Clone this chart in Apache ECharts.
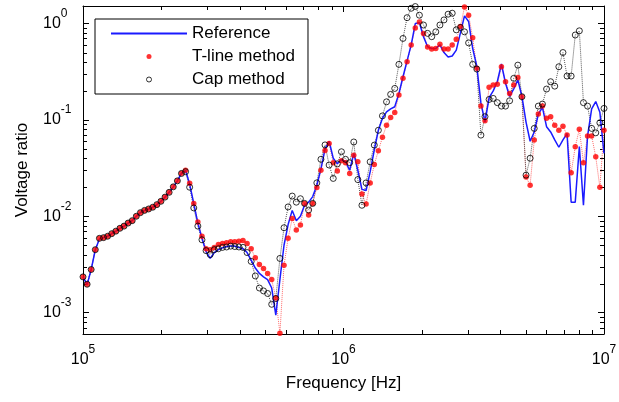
<!DOCTYPE html>
<html>
<head>
<meta charset="utf-8">
<script src="https://cdn.jsdelivr.net/npm/echarts@6/dist/echarts.min.js"></script>
<style>
html, body { margin: 0; padding: 0; background: #fff; }
#chart { width: 619px; height: 402px; }
</style>
</head>
<body>
<div id="chart"></div>
<script>
// frequency points [Hz], shared by the three curves
var freqs = [
  1.000e5, 1.037e5, 1.075e5, 1.115e5, 1.156e5, 1.199e5, 1.243e5, 1.289e5, 1.337e5, 1.386e5,
  1.437e5, 1.490e5, 1.545e5, 1.602e5, 1.661e5, 1.723e5, 1.786e5, 1.852e5, 1.921e5, 1.992e5,
  2.065e5, 2.141e5, 2.221e5, 2.303e5, 2.388e5, 2.476e5, 2.567e5, 2.662e5, 2.760e5, 2.862e5,
  2.968e5, 3.077e5, 3.191e5, 3.309e5, 3.431e5, 3.558e5, 3.689e5, 3.825e5, 3.967e5, 4.113e5,
  4.265e5, 4.422e5, 4.586e5, 4.755e5, 4.931e5, 5.113e5, 5.302e5, 5.497e5, 5.700e5, 5.911e5,
  6.129e5, 6.355e5, 6.590e5, 6.833e5, 7.086e5, 7.347e5, 7.619e5, 7.900e5, 8.192e5, 8.494e5,
  8.808e5, 9.133e5, 9.470e5, 9.820e5, 1.018e6, 1.056e6, 1.095e6, 1.135e6, 1.177e6, 1.221e6,
  1.266e6, 1.313e6, 1.361e6, 1.411e6, 1.463e6, 1.517e6, 1.573e6, 1.632e6, 1.692e6, 1.754e6,
  1.819e6, 1.886e6, 1.956e6, 2.028e6, 2.103e6, 2.181e6, 2.261e6, 2.345e6, 2.431e6, 2.521e6,
  2.614e6, 2.710e6, 2.811e6, 2.914e6, 3.022e6, 3.133e6, 3.249e6, 3.369e6, 3.493e6, 3.622e6,
  3.756e6, 3.895e6, 4.039e6, 4.188e6, 4.342e6, 4.503e6, 4.669e6, 4.841e6, 5.020e6, 5.205e6,
  5.398e6, 5.597e6, 5.803e6, 6.018e6, 6.240e6, 6.470e6, 6.709e6, 6.957e6, 7.214e6, 7.480e6,
  7.756e6, 8.042e6, 8.339e6, 8.647e6, 8.966e6, 9.297e6, 9.641e6, 1.000e7
];

var refVals = [
  2.35e-3, 1.95e-3, 2.8e-3, 4.5e-3, 5.8e-3, 6.0e-3, 6.2e-3, 6.6e-3, 7.0e-3, 7.5e-3,
  7.9e-3, 8.5e-3, 9.0e-3, 1.0e-2, 1.09e-2, 1.15e-2, 1.19e-2, 1.24e-2, 1.32e-2, 1.43e-2,
  1.58e-2, 1.77e-2, 2.02e-2, 2.33e-2, 2.8e-2, 3.0e-2, 2.15e-2, 1.35e-2, 8.5e-3, 5.9e-3,
  4.3e-3, 3.65e-3, 4.2e-3, 4.5e-3, 4.7e-3, 4.85e-3, 4.9e-3, 4.9e-3, 4.75e-3, 4.6e-3,
  4.2e-3, 3.5e-3, 2.9e-3, 2.55e-3, 2.35e-3, 2.2e-3, 1.8e-3, 9.4e-4, 2.2e-3, 5.0e-3,
  8.2e-3, 1.15e-2, 9.0e-3, 1.0e-2, 1.3e-2, 1.4e-2, 1.6e-2, 2.1e-2, 3.1e-2, 5.0e-2,
  6.0e-2, 4.0e-2, 3.5e-2, 3.9e-2, 3.7e-2, 3.0e-2, 4.5e-2, 3.0e-2, 1.9e-2, 1.85e-2,
  2.9e-2, 4.9e-2, 7.8e-2, 0.104, 0.121, 0.13, 0.137, 0.188, 0.28, 0.41,
  0.6, 1.0, 1.02, 0.73, 0.575, 0.55, 0.55, 0.6, 0.5, 0.45,
  0.46, 0.53, 0.8, 1.2, 1.05, 0.55, 0.36, 0.15, 0.095, 0.17,
  0.2, 0.25, 0.38, 0.24, 0.175, 0.21, 0.26, 0.175, 0.095, 0.06,
  0.075, 0.115, 0.135, 0.085, 0.075, 0.062, 0.052, 0.062, 0.072, 0.014,
  0.014, 0.053, 0.013, 0.068, 0.13, 0.155, 0.12, 0.045
];

var tlineVals = [
  2.35e-3, 1.97e-3, 2.8e-3, 4.5e-3, 5.9e-3, 6.0e-3, 6.2e-3, 6.6e-3, 7.0e-3, 7.5e-3,
  7.9e-3, 8.5e-3, 9.0e-3, 1.0e-2, 1.09e-2, 1.15e-2, 1.19e-2, 1.24e-2, 1.32e-2, 1.43e-2,
  1.58e-2, 1.77e-2, 2.02e-2, 2.33e-2, 2.8e-2, 3.0e-2, 2.2e-2, 1.36e-2, 8.7e-3, 6.2e-3,
  4.6e-3, 4.5e-3, 4.75e-3, 5.1e-3, 5.2e-3, 5.3e-3, 5.45e-3, 5.45e-3, 5.5e-3, 5.6e-3,
  5.2e-3, 4.6e-3, 3.7e-3, 3.15e-3, 2.87e-3, 2.55e-3, 2.2e-3, 1.42e-3, 6.1e-4, 3.1e-3,
  5.9e-3, 9.5e-3, 7.2e-3, 8.1e-3, 1.36e-2, 1.03e-2, 1.36e-2, 1.99e-2, 3.0e-2, 4.8e-2,
  5.7e-2, 3.6e-2, 2.94e-2, 3.76e-2, 3.6e-2, 2.78e-2, 4.3e-2, 3.67e-2, 1.7e-2, 1.34e-2,
  2.22e-2, 3.45e-2, 4.78e-2, 6.6e-2, 8.8e-2, 0.106, 0.119, 0.181, 0.27, 0.40,
  0.60, 0.90, 1.04, 0.79, 0.57, 0.545, 0.55, 0.61, 0.545, 0.545,
  0.6, 0.685, 0.93, 1.48, 1.22, 0.71, 0.343, 0.139, 0.098, 0.218,
  0.23, 0.235, 0.356, 0.249, 0.188, 0.23, 0.276, 0.174, 2.56e-2, 2.1e-2,
  6.17e-2, 0.115, 0.139, 0.104, 0.108, 0.088, 0.078, 0.086, 0.0695, 2.82e-2,
  5.26e-2, 0.08, 3.6e-2, 0.068, 0.068, 0.0414, 2.0e-2, 0.078
];

var capVals = [
  2.35e-3, 1.97e-3, 2.8e-3, 4.5e-3, 5.9e-3, 6.0e-3, 6.2e-3, 6.6e-3, 7.0e-3, 7.5e-3,
  7.9e-3, 8.5e-3, 9.0e-3, 1.0e-2, 1.09e-2, 1.15e-2, 1.19e-2, 1.24e-2, 1.32e-2, 1.43e-2,
  1.58e-2, 1.77e-2, 2.02e-2, 2.33e-2, 2.78e-2, 2.9e-2, 2.0e-2, 1.22e-2, 7.9e-3, 5.7e-3,
  4.4e-3, 4.0e-3, 4.5e-3, 4.6e-3, 4.75e-3, 4.8e-3, 4.9e-3, 4.85e-3, 4.8e-3, 4.75e-3,
  4.2e-3, 3.4e-3, 2.4e-3, 1.8e-3, 1.68e-3, 1.58e-3, 1.22e-3, 1.4e-3, 3.65e-3, 7.6e-3,
  1.25e-2, 1.62e-2, 1.4e-2, 1.52e-2, 1.36e-2, 1.16e-2, 1.36e-2, 2.22e-2, 3.9e-2, 5.5e-2,
  3.4e-2, 2.47e-2, 3.5e-2, 4.67e-2, 3.9e-2, 3.6e-2, 5.9e-2, 2.4e-2, 1.3e-2, 2.22e-2,
  3.67e-2, 5.47e-2, 7.8e-2, 0.11, 0.154, 0.184, 0.212, 0.377, 0.70, 1.15,
  1.44, 1.5, 1.22, 0.965, 0.79, 0.73, 0.82, 0.965, 1.09, 1.25,
  1.28, 0.86, 0.91, 0.82, 0.63, 0.377, 0.337, 0.0695, 0.108, 0.163,
  0.167, 0.151, 0.139, 0.139, 0.158, 0.27, 0.37, 0.174, 2.67e-2, 0.04,
  0.0816, 0.139, 0.146, 0.209, 0.249, 0.224, 0.356, 0.50, 0.285, 0.285,
  0.76, 0.84, 0.151, 0.139, 0.0816, 0.0734, 0.0933, 0.1316
];

// minor tick values for the log axes
var xMinorTicks = [2e5, 3e5, 4e5, 5e5, 6e5, 7e5, 8e5, 9e5, 2e6, 3e6, 4e6, 5e6, 6e6, 7e6, 8e6, 9e6];
var yMinorTicks = [7e-4, 8e-4, 9e-4, 2e-3, 3e-3, 4e-3, 5e-3, 6e-3, 7e-3, 8e-3, 9e-3,
  2e-2, 3e-2, 4e-2, 5e-2, 6e-2, 7e-2, 8e-2, 9e-2, 0.2, 0.3, 0.4, 0.5, 0.6, 0.7, 0.8, 0.9];

var X_MIN = 1e5, X_MAX = 1e7, Y_MIN = 6e-4, Y_MAX = 1.52;
var FONT = '"Liberation Sans", Arial, Helvetica, sans-serif';

function zip(vals) {
  return freqs.map(function (f, i) { return [f, vals[i]]; });
}

function powLabel(v) {
  var e = Math.log10(v);
  var r = Math.round(e);
  if (Math.abs(e - r) > 1e-6) return '';
  return '{b|10}{s|' + r + '}';
}

var richLbl = {
  b: { fontSize: 16, fontFamily: FONT, color: '#000', lineHeight: 32, verticalAlign: 'middle' },
  s: { fontSize: 12, fontFamily: FONT, color: '#000', lineHeight: 12, verticalAlign: 'top' }
};

function px(v) { return Math.round(v) + 0.5; }

var myChart = echarts.init(document.getElementById('chart'));

var axisCommon = {
  axisLine: { show: true, onZero: false, lineStyle: { color: '#000', width: 1 } },
  axisTick: { show: true, inside: true, length: 6, lineStyle: { color: '#000', width: 1 } },
  splitLine: { show: false },
  minorTick: { show: false }
};

var option = {
  animation: false,
  backgroundColor: '#fff',
  grid: { left: 83, right: 15, top: 6, bottom: 68, containLabel: false, outerBoundsMode: 'none' },
  legend: {
    orient: 'vertical', left: 95, top: 19,
    padding: [6, 13, 6, 15],
    itemWidth: 76, itemHeight: 5, itemGap: 6,
    borderColor: '#000', borderWidth: 1, borderRadius: 0, backgroundColor: '#fff',
    selectedMode: false,
    textStyle: { fontSize: 17, fontFamily: FONT, color: '#000', lineHeight: 17 },
    data: [
      { name: 'Reference', itemStyle: { color: 'rgba(0,0,0,0)', borderWidth: 0, opacity: 0 } },
      { name: 'T-line method' },
      { name: 'Cap method', itemStyle: { borderWidth: 1 } }
    ]
  },
  xAxis: [
    Object.assign({
      type: 'log', logBase: 10, min: X_MIN, max: X_MAX, position: 'bottom',
      axisLabel: { formatter: powLabel, rich: richLbl, margin: 10, showMinLabel: true, showMaxLabel: true },
      name: 'Frequency [Hz]', nameLocation: 'middle', nameGap: 41,
      nameTextStyle: { fontSize: 17, fontFamily: FONT, color: '#000' }
    }, axisCommon),
    Object.assign({
      type: 'log', logBase: 10, min: X_MIN, max: X_MAX, position: 'top',
      axisLabel: { show: false }
    }, axisCommon)
  ],
  yAxis: [
    Object.assign({
      type: 'log', logBase: 10, min: Y_MIN, max: Y_MAX, position: 'left',
      axisLabel: { formatter: powLabel, rich: richLbl, align: 'left', margin: 40, showMinLabel: false, showMaxLabel: false },
      name: 'Voltage ratio', nameLocation: 'middle', nameGap: 52,
      nameTextStyle: { fontSize: 17, fontFamily: FONT, color: '#000' }
    }, axisCommon),
    Object.assign({
      type: 'log', logBase: 10, min: Y_MIN, max: Y_MAX, position: 'right',
      axisLabel: { show: false }
    }, axisCommon)
  ],
  series: [
    {
      name: 'xminor', type: 'custom', xAxisIndex: 0, yAxisIndex: 0, silent: true, z: 1,
      data: xMinorTicks.map(function (v) { return [v, Y_MIN]; }),
      renderItem: function (params, api) {
        var b = api.coord([api.value(0), Y_MIN]);
        var t = api.coord([api.value(0), Y_MAX]);
        var x = px(b[0]);
        return { type: 'group', children: [
          { type: 'line', shape: { x1: x, y1: b[1], x2: x, y2: b[1] - 4 }, style: { stroke: '#000', lineWidth: 1 } },
          { type: 'line', shape: { x1: x, y1: t[1], x2: x, y2: t[1] + 4 }, style: { stroke: '#000', lineWidth: 1 } }
        ] };
      }
    },
    {
      name: 'yminor', type: 'custom', xAxisIndex: 0, yAxisIndex: 0, silent: true, z: 1,
      data: yMinorTicks.map(function (v) { return [X_MIN, v]; }),
      renderItem: function (params, api) {
        var l = api.coord([X_MIN, api.value(1)]);
        var r = api.coord([X_MAX, api.value(1)]);
        var y = px(l[1]);
        return { type: 'group', children: [
          { type: 'line', shape: { x1: l[0], y1: y, x2: l[0] + 4, y2: y }, style: { stroke: '#000', lineWidth: 1 } },
          { type: 'line', shape: { x1: r[0], y1: y, x2: r[0] - 4, y2: y }, style: { stroke: '#000', lineWidth: 1 } }
        ] };
      }
    },
    {
      name: 'T-line path', type: 'line', data: zip(tlineVals), symbol: 'none', silent: true, z: 2,
      lineStyle: { type: 'dotted', width: 1, color: '#ff6a6a' }
    },
    {
      name: 'Cap path', type: 'line', data: zip(capVals), symbol: 'none', silent: true, z: 2,
      lineStyle: { type: 'dotted', width: 1, color: '#555' }
    },
    {
      name: 'Reference', type: 'line', data: zip(refVals), symbol: 'none', z: 3,
      lineStyle: { color: '#1a1aff', width: 1.5 }, itemStyle: { color: '#1a1aff' }
    },
    {
      name: 'T-line method', type: 'scatter', data: zip(tlineVals), symbol: 'circle', symbolSize: 5.5, z: 4,
      itemStyle: { color: '#ff0000' }
    },
    {
      name: 'Cap method', type: 'scatter', data: zip(capVals), symbol: 'circle', symbolSize: 6, z: 5,
      itemStyle: { color: 'rgba(0,0,0,0)', borderColor: '#000', borderWidth: 1 }
    }
  ]
};

myChart.setOption(option);
</script>
</body>
</html>
